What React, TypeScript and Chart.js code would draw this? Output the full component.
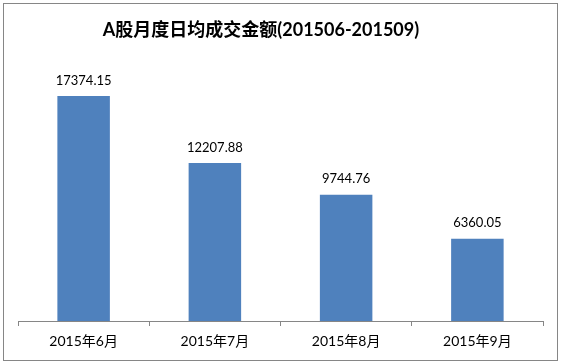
import React, { useEffect, useRef } from "react";
import { Chart, registerables } from "chart.js";

Chart.register(...registerables);

const TITLE = "A股月度日均成交金额(201506-201509)";
const categories = ["2015年6月", "2015年7月", "2015年8月", "2015年9月"];
const values = [17374.15, 12207.88, 9744.76, 6360.05];
const valueLabels = ["17374.15", "12207.88", "9744.76", "6360.05"];
const yMin = 0;
const yMax = 20000;

const FONT = "Lato, 'Noto Sans CJK SC', sans-serif";
const GRAY = "#868686";

export default function App() {
  const ref = useRef<HTMLCanvasElement | null>(null);

  useEffect(() => {
    const canvas = ref.current;
    if (!canvas) return;

    const deco = {
      id: "deco",
      beforeDraw(chart: any) {
        const ctx = chart.ctx;
        ctx.save();
        ctx.fillStyle = "#ffffff";
        ctx.fillRect(0, 0, chart.width, chart.height);
        ctx.strokeStyle = GRAY;
        ctx.lineWidth = 1;
        ctx.strokeRect(3.5, 3.5, 554, 357);
        ctx.fillStyle = "#000000";
        ctx.font = `bold 18px ${FONT}`;
        ctx.textAlign = "center";
        ctx.textBaseline = "middle";
        ctx.fillText(TITLE, 261, 30);
        ctx.restore();
      },
      afterDatasetsDraw(chart: any) {
        const ctx = chart.ctx;
        const meta = chart.getDatasetMeta(0);
        ctx.save();
        ctx.fillStyle = "#000000";
        ctx.font = `13px ${FONT}`;
        ctx.textAlign = "center";
        ctx.textBaseline = "bottom";
        meta.data.forEach((bar: any, i: number) => {
          ctx.fillText(valueLabels[i], bar.x, bar.y - 9);
        });
        ctx.restore();
      },
    };

    const chart = new Chart(canvas, {
      type: "bar",
      data: {
        labels: categories,
        datasets: [
          {
            data: values,
            backgroundColor: "#4F81BD",
            borderWidth: 0,
            barPercentage: 0.4,
            categoryPercentage: 1,
          },
        ],
      },
      options: {
        responsive: false,
        animation: false,
        layout: { padding: { top: 62, left: 18, right: 18, bottom: 0 } },
        plugins: {
          legend: { display: false },
          title: { display: false },
          tooltip: { enabled: false },
        },
        scales: {
          x: {
            offset: true,
            grid: {
              offset: true,
              drawOnChartArea: false,
              drawTicks: true,
              tickLength: 5,
              color: GRAY,
            },
            border: { display: true, color: GRAY, width: 1 },
            ticks: {
              color: "#000000",
              font: { size: 14, family: FONT },
              padding: 7,
              maxRotation: 0,
            },
            afterFit(scale: any) {
              scale.height = 43;
            },
          },
          y: {
            display: false,
            min: yMin,
            max: yMax,
          },
        },
      },
      plugins: [deco],
    });

    return () => chart.destroy();
  }, []);

  return (
    <div style={{ position: "absolute", left: 0, top: 0, width: 561, height: 364 }}>
      <canvas ref={ref} width={561} height={364} style={{ display: "block" }} />
    </div>
  );
}
